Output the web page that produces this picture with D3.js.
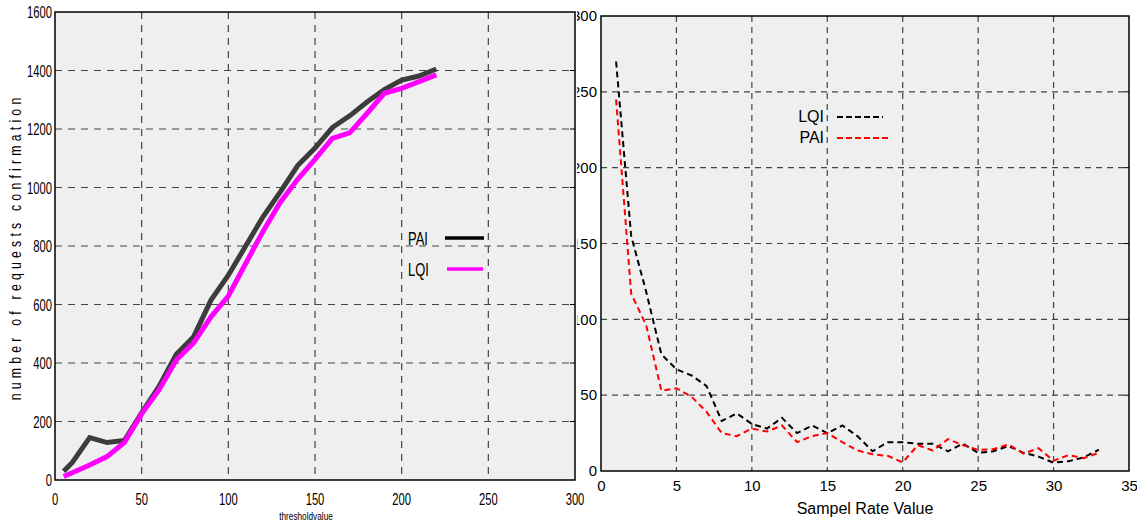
<!DOCTYPE html>
<html><head><meta charset="utf-8">
<script src="https://cdn.jsdelivr.net/npm/d3@7"></script>
<style>body{margin:0;background:#fff;} svg{display:block;}</style>
</head><body>
<svg id="chart" width="1137" height="522"></svg>
<script>
// ---- Left chart data ----
const thresholds = [5,10,20,30,40,50,60,70,80,90,100,110,120,130,140,150,160,170,180,190,200,210,220];
const paiRequests = [30,60,145,128,135,230,320,430,490,615,700,800,900,985,1075,1135,1205,1245,1292,1335,1367,1381,1405];
const lqiRequests = [12,25,51,80,128,226,308,410,469,558,629,740,850,950,1028,1096,1168,1187,1253,1322,1339,1362,1385];
const leftXTicks = [0,50,100,150,200,250,300];
const leftYTicks = [0,200,400,600,800,1000,1200,1400,1600];

// ---- Right chart data ----
const sampleRates = [1,2,3,4,5,6,7,8,9,10,11,12,13,14,15,16,17,18,19,20,21,22,23,24,25,26,27,28,29,30,31,32,33];
const lqiValues = [270,155,118,77,67,63,56,33,38,31,28,35,25,30,25,30,23,13,19,19,18,18,13,18,12,13,16.5,12,9.5,5.5,6.5,9,14];
const paiValues = [245,117,96,53,54.5,49,39,25,23,28,26,30,19,23,25,19,13.5,11,10,5.7,17,13.5,21,17,14,14.3,17.5,11.5,15,6.8,10.5,8.5,12];
const rightXTicks = [0,5,10,15,20,25,30,35];
const rightYTicks = [0,50,100,150,200,250,300];

const svg = d3.select("#chart");
const gridColor = "#444";

// ================= RIGHT CHART (drawn first, partly covered) =================
{
  const x = d3.scaleLinear().domain([0,35]).range([601,1129]);
  const y = d3.scaleLinear().domain([0,300]).range([471,16]);
  const g = svg.append("g");
  g.append("rect").attr("x",601).attr("y",16).attr("width",528).attr("height",455).attr("fill","#efefef");
  g.selectAll(".vg").data(rightXTicks.filter(d=>d>0&&d<35)).join("line")
    .attr("x1",d=>x(d)).attr("x2",d=>x(d)).attr("y1",16).attr("y2",471)
    .attr("stroke",gridColor).attr("stroke-width",1.2).attr("stroke-dasharray","6,5");
  g.selectAll(".hg").data(rightYTicks.filter(d=>d>0&&d<300)).join("line")
    .attr("x1",601).attr("x2",1129).attr("y1",d=>y(d)).attr("y2",d=>y(d))
    .attr("stroke",gridColor).attr("stroke-width",1.2).attr("stroke-dasharray","6,5");
  const xa = g.append("g").attr("transform","translate(0,471)")
    .call(d3.axisBottom(x).tickValues(rightXTicks).tickSize(0).tickPadding(9));
  const ya = g.append("g").attr("transform","translate(601,0)")
    .call(d3.axisLeft(y).tickValues(rightYTicks).tickSize(0).tickPadding(4));
  [xa,ya].forEach(a=>{a.select(".domain").remove();
    a.selectAll("text").attr("font-family","Liberation Sans, Arial, sans-serif").attr("font-size",15).attr("fill","#000");});
  g.selectAll(".rt").data(rightYTicks.filter(d=>d>0&&d<300)).join("line")
    .attr("x1",1124).attr("x2",1129).attr("y1",d=>y(d)).attr("y2",d=>y(d)).attr("stroke","#000");
  g.append("rect").attr("x",601).attr("y",16).attr("width",528).attr("height",455)
    .attr("fill","none").attr("stroke","#000").attr("stroke-width",1.5);
  const line = d3.line().x((d,i)=>x(sampleRates[i])).y(d=>y(d));
  g.append("path").datum(lqiValues).attr("d",line).attr("fill","none")
    .attr("stroke","#000").attr("stroke-width",2).attr("stroke-dasharray","6,4");
  g.append("path").datum(paiValues).attr("d",line).attr("fill","none")
    .attr("stroke","#ff0000").attr("stroke-width",2).attr("stroke-dasharray","6,4");
  g.append("text").attr("x",865).attr("y",514).attr("text-anchor","middle")
    .attr("font-family","Liberation Sans, Arial, sans-serif").attr("font-size",16).text("Sampel Rate Value");
  const leg = [{name:"LQI",color:"#000",y:116,x2:883},{name:"PAI",color:"#ff0000",y:137,x2:889}];
  leg.forEach(l=>{
    g.append("text").attr("x",824).attr("y",l.y+6).attr("text-anchor","end")
      .attr("font-family","Liberation Sans, Arial, sans-serif").attr("font-size",16).text(l.name);
    g.append("line").attr("x1",837).attr("x2",l.x2).attr("y1",l.y+1).attr("y2",l.y+1)
      .attr("stroke",l.color).attr("stroke-width",2.2).attr("stroke-dasharray","6,3");
  });
}

// ================= LEFT CHART =================
{
  svg.append("rect").attr("x",0).attr("y",0).attr("width",577).attr("height",480).attr("fill","#fff");
  const x = d3.scaleLinear().domain([0,300]).range([55,575]);
  const y = d3.scaleLinear().domain([0,1600]).range([480,12]);
  const g = svg.append("g");
  g.append("rect").attr("x",55).attr("y",12).attr("width",520).attr("height",468).attr("fill","#efefef");
  g.selectAll(".vg").data(leftXTicks.filter(d=>d>0&&d<300)).join("line")
    .attr("x1",d=>x(d)).attr("x2",d=>x(d)).attr("y1",12).attr("y2",480)
    .attr("stroke",gridColor).attr("stroke-width",1.2).attr("stroke-dasharray","7,6");
  g.selectAll(".hg").data(leftYTicks.filter(d=>d>0&&d<1600)).join("line")
    .attr("x1",55).attr("x2",575).attr("y1",d=>y(d)).attr("y2",d=>y(d))
    .attr("stroke",gridColor).attr("stroke-width",1.2).attr("stroke-dasharray","7,6");
  g.selectAll(".rt").data(leftYTicks.filter(d=>d>0&&d<1600)).join("line")
    .attr("x1",570).attr("x2",575).attr("y1",d=>y(d)).attr("y2",d=>y(d)).attr("stroke","#000");
  g.append("rect").attr("x",55).attr("y",12).attr("width",520).attr("height",468)
    .attr("fill","none").attr("stroke","#000").attr("stroke-width",1.5);
  const font = "Liberation Sans, Arial, sans-serif";
  g.selectAll(".yl").data(leftYTicks).join("text")
    .attr("transform",d=>`translate(52,${y(d)+6}) scale(0.66,1)`)
    .attr("text-anchor","end").attr("font-family",font).attr("font-size",17).text(d=>d);
  g.selectAll(".xl").data(leftXTicks).join("text")
    .attr("transform",d=>`translate(${x(d)},505) scale(0.66,1)`)
    .attr("text-anchor","middle").attr("font-family",font).attr("font-size",17).text(d=>d);
  g.append("text").attr("transform","translate(21,249) rotate(-90) scale(0.72,1)")
    .attr("text-anchor","middle").attr("font-family",font).attr("font-size",17)
    .attr("textLength",420).attr("lengthAdjust","spacing")
    .text("number of requests confirmation");
  g.append("text").attr("transform","translate(306,520) scale(0.75,1)")
    .attr("text-anchor","middle").attr("font-family",font).attr("font-size",11).text("thresholdvalue");
  const line = d3.line().x((d,i)=>x(thresholds[i])).y(d=>y(d));
  g.append("path").datum(paiRequests).attr("d",line).attr("fill","none")
    .attr("stroke","#3c3c3c").attr("stroke-width",5).attr("stroke-linejoin","miter");
  g.append("path").datum(lqiRequests).attr("d",line).attr("fill","none")
    .attr("stroke","#ff00ff").attr("stroke-width",5).attr("stroke-linejoin","miter");
  const leg = [{name:"PAI",color:"#000",y:238,x1:445,x2:484},{name:"LQI",color:"#ff00ff",y:269,x1:447,x2:483}];
  leg.forEach(l=>{
    g.append("text").attr("transform",`translate(408,${l.y+7}) scale(0.72,1)`)
      .attr("font-family",font).attr("font-size",18).text(l.name);
    g.append("line").attr("x1",l.x1).attr("x2",l.x2).attr("y1",l.y).attr("y2",l.y)
      .attr("stroke",l.color).attr("stroke-width",3.5);
  });
}
</script>
</body></html>
